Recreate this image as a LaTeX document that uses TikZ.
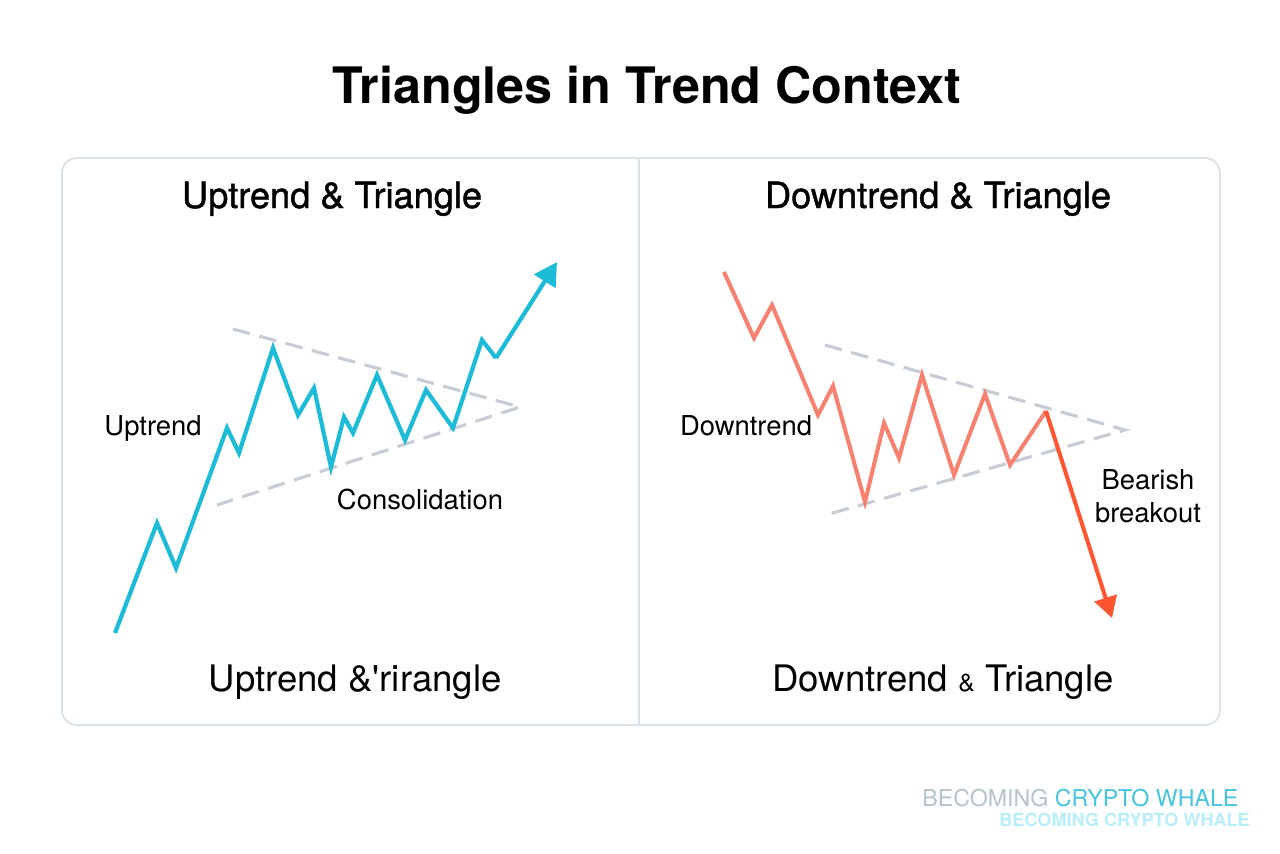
\documentclass[tikz,border=0pt]{standalone}
\usepackage{fontspec}
\setmainfont{TeX Gyre Heros}
\newfontfamily\medfont[FakeBold=1.2]{TeX Gyre Heros}
\usetikzlibrary{arrows.meta}

\definecolor{upcyan}{HTML}{1CBCD8}
\definecolor{downsalmon}{HTML}{F7806E}
\definecolor{breakred}{HTML}{FF5530}
\definecolor{dashgray}{HTML}{C8CDD5}
\definecolor{panelline}{HTML}{DCE3E8}
\definecolor{wmgray}{HTML}{B5C3CC}
\definecolor{wmcyan}{HTML}{45C6DE}
\definecolor{wmlight}{HTML}{B8EEF9}

\tikzset{
  uppath/.style={draw=upcyan, line width=2.4pt},
  downpath/.style={draw=downsalmon, line width=2.3pt},
  bordline/.style={draw=dashgray, line width=1.8pt, dash pattern=on 10pt off 5.5pt},
  smalllabel/.style={anchor=base, font=\fontsize{15.6}{18}\selectfont},
  headlabel/.style={anchor=base, font=\medfont\fontsize{20.6}{24}\selectfont},
  footlabel/.style={anchor=base, font=\fontsize{20.8}{24}\selectfont}
}

\begin{document}
\begin{tikzpicture}[x=0.02cm, y=-0.02cm]
      \useasboundingbox (0,0) rectangle (1280,853);

      \node[anchor=base, font=\bfseries\fontsize{28.6}{33}\selectfont] (title) at (647,103) {Triangles in Trend Context};

      \draw[panelline, line width=1.1pt, rounded corners=8.5pt] (62,158) rectangle (1220,725);
      \coordinate (divtop) at (639,159);
      \coordinate (divbot) at (639,724);
      \draw[panelline, line width=0.9pt] (divtop) -- (divbot);

      \node[headlabel] (uphead) at (332,208) {Uptrend \& Triangle};
      \node[headlabel] (downhead) at (938,208) {Downtrend \& Triangle};

      % uptrend chart
      \coordinate (u0) at (115,633);
      \coordinate (u1) at (157,523);
      \coordinate (u2) at (176,568);
      \coordinate (u3) at (227,428);
      \coordinate (u4) at (239,453);
      \coordinate (u5) at (273,348);
      \coordinate (u6) at (298,415);
      \coordinate (u7) at (314,388);
      \coordinate (u8) at (331,467);
      \coordinate (u9) at (344,417);
      \coordinate (u10) at (353,433);
      \coordinate (u11) at (377,375);
      \coordinate (u12) at (405,440);
      \coordinate (u13) at (426,390);
      \coordinate (u14) at (453,428);
      \coordinate (u15) at (482,340);
      \coordinate (u16) at (496,358);
      \coordinate (u17) at (557,262);

      \coordinate (uhi) at (233,329);
      \coordinate (uapex) at (520,407);
      \coordinate (ulo) at (217,505);
      \draw[bordline] (uhi) -- (uapex) -- (ulo);

      \draw[uppath] (u0) -- (u1) -- (u2) -- (u3) -- (u4) -- (u5) -- (u6) -- (u7) -- (u8)
        -- (u9) -- (u10) -- (u11) -- (u12) -- (u13) -- (u14) -- (u15) -- (u16);
      \draw[uppath, -{Triangle[length=13pt,width=14pt]}] (u16) -- (u17);

      \node[smalllabel] (uplbl) at (153,435) {Uptrend};
      \node[smalllabel] (conslbl) at (420,509) {Consolidation};

      % downtrend chart
      \coordinate (d0) at (724,272);
      \coordinate (d1) at (754,338);
      \coordinate (d2) at (772,305);
      \coordinate (d3) at (818,415);
      \coordinate (d4) at (833,386);
      \coordinate (d5) at (865,502);
      \coordinate (d6) at (884,423);
      \coordinate (d7) at (899,458);
      \coordinate (d8) at (922,375);
      \coordinate (d9) at (954,475);
      \coordinate (d10) at (985,394);
      \coordinate (d11) at (1010,465);
      \coordinate (d12) at (1046,411);
      \coordinate (d13) at (1112,618);

      \coordinate (dhi) at (825,345);
      \coordinate (dapex) at (1125,430);
      \coordinate (dlo) at (829,514);
      \draw[bordline] (dhi) -- (dapex) -- (dlo);

      \draw[downpath] (d0) -- (d1) -- (d2) -- (d3) -- (d4) -- (d5) -- (d6) -- (d7) -- (d8)
        -- (d9) -- (d10) -- (d11) -- (d12);
      \draw[downpath, draw=breakred, -{Triangle[length=12pt,width=13pt]}] (d12) -- (d13);

      \node[smalllabel] (downlbl) at (746,435) {Downtrend};
      \node[smalllabel] (bearlbl) at (1148,489) {Bearish};
      \node[smalllabel] (breaklbl) at (1148,522) {breakout};

      \node[footlabel] (upfoot) at (355,691) {Uptrend \&\textquotesingle rirangle};
      \node[footlabel] (downfoot) at (943,691) {Downtrend {\fontsize{14}{14}\selectfont\&} Triangle};

      % watermark
      \node[anchor=base west, inner sep=0pt, font=\fontsize{13.2}{15}\selectfont] (wm1) at (922,806)
        {\textcolor{wmgray}{BECOMING} \textcolor{wmcyan}{CRYPTO WHALE}};
      \node[anchor=base west, inner sep=0pt, text=wmlight, font=\bfseries\fontsize{10.3}{12}\selectfont] (wm2) at (999,826)
        {BECOMING CRYPTO WHALE};

    \end{tikzpicture}
\end{document}
